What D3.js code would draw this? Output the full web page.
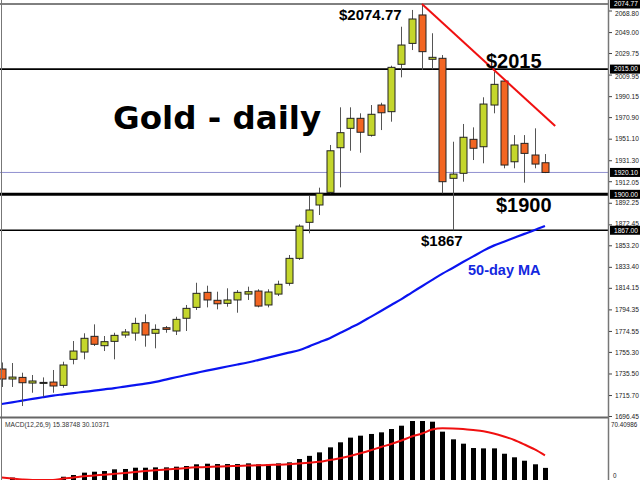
<!DOCTYPE html>
<html><head><meta charset="utf-8">
<script src="https://cdn.jsdelivr.net/npm/d3@7"></script>
<style>body{margin:0;background:#fff}svg{display:block}</style>
</head><body>
<svg id="c" width="640" height="480"></svg>
<script>
// ---- data ----
const opens  = [1739.6,1730.4,1731.9,1726.7,1727.3,1727.6,1724.6,1748.5,1755.2,1769.6,1761.0,1765.0,1770.8,1772.6,1782.1,1772.4,1777.5,1774.5,1786.2,1796.2,1810.0,1802.7,1799.9,1803.0,1808.4,1811.2,1798.4,1808.4,1818.3,1841.2,1874.3,1890.2,1901.8,1942.8,1960.6,1969.8,1954.2,1982.0,1975.9,2019.4,2038.6,2064.7,2024.0,2024.9,1914.7,1919.3,1950.5,1943.7,1982.0,2004.0,1929.9,1946.8,1936.1,1929.0];
const highs  = [1745.6,1745.1,1736.2,1734.1,1731.9,1738.7,1746.3,1765.3,1772.4,1780.6,1769.9,1772.9,1776.3,1786.7,1789.8,1780.6,1779.1,1787.6,1798.4,1818.8,1816.1,1810.6,1813.7,1812.1,1815.2,1812.8,1812.8,1820.7,1844.3,1872.4,1898.5,1906.1,1945.3,1979.9,1979.9,1974.4,1982.0,1984.1,2018.1,2053.9,2069.3,2074.77,2047.9,2027.9,1948.3,1964.6,1961.5,1989.1,2012.6,2005.0,1954.4,1954.4,1960.6,1937.0];
const lows   = [1723.1,1723.1,1705.6,1717.8,1714.1,1717.8,1722.4,1743.9,1748.5,1760.7,1756.1,1748.5,1768.3,1765.6,1760.1,1758.6,1772.9,1770.8,1774.5,1793.8,1796.2,1794.4,1796.8,1791.3,1803.0,1796.2,1796.2,1806.6,1816.1,1839.7,1864.2,1881.0,1900.9,1906.4,1940.0,1938.2,1953.0,1959.0,1966.7,2007.4,2032.5,2014.2,2014.8,1900.9,1867.0,1911.6,1931.5,1928.5,1974.4,1923.9,1923.9,1910.7,1923.9,1919.5];
const closes = [1730.4,1732.2,1727.0,1728.6,1727.3,1724.0,1743.3,1756.1,1767.8,1762.3,1764.7,1770.5,1773.6,1781.5,1770.8,1776.0,1776.0,1785.2,1795.3,1809.1,1803.0,1799.5,1803.0,1810.0,1810.6,1797.4,1810.3,1817.4,1841.2,1870.8,1885.6,1900.9,1940.0,1956.6,1969.8,1957.0,1973.5,1974.9,2016.6,2037.1,2061.0,2031.0,2025.8,1911.6,1918.6,1952.4,1942.3,1982.9,2001.0,1926.9,1945.3,1937.6,1927.8,1920.1];
const ma50   = [1707.5,1709.0,1710.6,1712.1,1713.7,1715.2,1716.3,1717.4,1718.6,1719.7,1720.9,1722.1,1723.5,1724.8,1726.1,1727.8,1729.9,1732.0,1734.1,1736.1,1738.1,1740.0,1741.9,1743.7,1745.6,1747.8,1750.1,1752.3,1754.6,1756.8,1760.4,1764.2,1767.9,1772.6,1777.3,1782.1,1787.5,1792.9,1798.4,1803.8,1809.8,1815.6,1821.5,1827.2,1832.4,1837.8,1843.0,1848.3,1852.9,1856.5,1860.1,1863.7,1867.2,1870.9];
const macdHist   = [1.0,4.0,1.0,0.5,0.3,0.8,5.0,7.0,9.8,10.9,11.7,13.7,14.1,15.6,15.6,16.0,16.0,16.8,17.6,19.6,20.3,19.9,19.9,19.9,20.7,19.6,19.6,20.7,21.9,25.8,29.5,33.6,39.5,45.4,50.9,53.2,55.2,57.1,61.0,64.9,70.4,70.4,69.6,57.9,48.9,43.8,38.7,38.3,38.3,32.0,27.8,23.8,19.6,15.39];
const macdSignal = [4.1,2.9,1.8,1.2,1.2,1.2,2.9,4.1,5.5,6.5,7.4,8.4,9.4,10.6,11.7,12.7,13.5,14.3,15.3,16.0,16.4,16.9,17.4,17.7,18.1,18.4,18.8,19.1,19.6,20.5,21.4,22.5,24.6,26.6,29.3,32.5,36.0,39.9,43.4,47.5,52.2,55.7,60.4,61.8,61.6,61.0,59.8,58.3,55.7,52.2,48.1,42.8,37.0,30.1];
const axisTicks = [2068.80,2049.00,2029.75,2009.95,1990.15,1970.90,1951.10,1931.30,1912.05,1892.25,1872.45,1853.20,1833.40,1814.15,1794.35,1774.55,1755.30,1735.50,1715.70,1696.45];
const levels = [2074.77,2015.00,1920.10,1900.00,1867.00];
const levelStyles = [{w:1,c:"#000"},{w:1.6,c:"#000"},{w:1,c:"#9090d0"},{w:3,c:"#000"},{w:1.6,c:"#000"}];
const trendIdx = [41, 54];
const trendPrice = [2074.77, 1962.7];
const macdTop = 70.40986;
const macdLabel = "MACD(12,26,9) 15.38748 30.10371";

// ---- scales ----
const svg = d3.select("#c");
const plotR = 608;
const x = d3.scaleLinear().domain([-0.17, 59.15]).range([0, plotR]);
const y = d3.scaleLinear().domain([1696.45, 2074.77]).range([416, 4]);
const ym = d3.scaleLinear().domain([0, macdTop]).range([481, 421]);
const idx = d3.range(opens.length);

svg.append("rect").attr("width",640).attr("height",480).attr("fill","#fff");
const defs = svg.append("defs");
defs.append("clipPath").attr("id","cm").append("rect").attr("x",0).attr("y",0).attr("width",plotR).attr("height",417);
defs.append("clipPath").attr("id","cd").append("rect").attr("x",0).attr("y",418).attr("width",plotR).attr("height",62);

const main = svg.append("g").attr("clip-path","url(#cm)");
levels.forEach((v,i)=>{
  main.append("line").attr("x1",0).attr("x2",plotR).attr("y1",y(v)).attr("y2",y(v))
    .attr("stroke",levelStyles[i].c).attr("stroke-width",levelStyles[i].w);
});
main.append("path").datum(idx).attr("fill","none").attr("stroke","#0a14f0").attr("stroke-width",2.2)
  .attr("d", d3.line().x(i=>x(i)).y(i=>y(ma50[i])).curve(d3.curveMonotoneX));
const cg = main.selectAll("g.cd").data(idx).join("g");
cg.append("line").attr("x1",i=>Math.round(x(i))+0.5).attr("x2",i=>Math.round(x(i))+0.5)
  .attr("y1",i=>y(highs[i])).attr("y2",i=>y(lows[i])).attr("stroke","#555").attr("stroke-width",1);
cg.append("rect").attr("x",i=>Math.round(x(i))-3).attr("width",7)
  .attr("y",i=>y(Math.max(opens[i],closes[i])))
  .attr("height",i=>Math.max(1, Math.abs(y(opens[i])-y(closes[i]))))
  .attr("fill",i=>closes[i]>=opens[i]?"#c4d62c":"#f26522")
  .attr("stroke","#222").attr("stroke-width",1);
main.append("line").attr("x1",x(trendIdx[0])).attr("y1",y(trendPrice[0]))
  .attr("x2",x(trendIdx[1])).attr("y2",y(trendPrice[1])).attr("stroke","#f01010").attr("stroke-width",2);

// texts
svg.append("text").attr("x",113).attr("y",129).text("Gold - daily")
  .attr("font-family","DejaVu Sans").attr("font-weight","bold").attr("font-size",32.5).attr("fill","#000");
const lab = (t,xx,yy,fs)=>svg.append("text").attr("x",xx).attr("y",yy).text(t)
  .attr("font-family","Liberation Sans, Arial").attr("font-weight","bold").attr("font-size",fs).attr("fill","#000");
lab("$2074.77",339,20,15);
lab("$2015",486,68,20);
lab("$1900",496,212,20);
lab("$1867",421,246,15);
svg.append("text").attr("x",468).attr("y",275).text("50-day MA")
  .attr("font-family","Liberation Sans, Arial").attr("font-weight","bold").attr("font-size",14.5).attr("fill","#1428e0");

// MACD panel
const md = svg.append("g").attr("clip-path","url(#cd)");
md.selectAll("rect.h").data(idx).join("rect")
  .attr("x",i=>Math.round(x(i))-2).attr("width",5)
  .attr("y",i=>Math.min(ym(macdHist[i]),ym(0)))
  .attr("height",i=>Math.abs(ym(macdHist[i])-ym(0))).attr("fill","#000");
md.append("path").datum(idx).attr("fill","none").attr("stroke","#f01010").attr("stroke-width",2)
  .attr("d", d3.line().x(i=>x(i)).y(i=>ym(macdSignal[i])).curve(d3.curveMonotoneX));
svg.append("text").attr("x",5).attr("y",426.5).text(macdLabel)
  .attr("font-family","Liberation Sans, Arial").attr("font-size",6.6).attr("fill","#333");

// frame
svg.append("line").attr("x1",1.5).attr("x2",1.5).attr("y1",0).attr("y2",480).attr("stroke","#777").attr("stroke-width",1);
svg.append("line").attr("x1",0).attr("x2",plotR).attr("y1",417.5).attr("y2",417.5).attr("stroke","#666").attr("stroke-width",2);
svg.append("line").attr("x1",plotR+0.5).attr("x2",plotR+0.5).attr("y1",0).attr("y2",480).attr("stroke","#777").attr("stroke-width",1.5);

// right axis
const nudge = {"2068.80":2.5,"2009.95":1.5,"1912.05":1,"1872.45":-1};
const ax = svg.append("g").attr("transform",`translate(${plotR+1},0)`)
  .call(d3.axisRight(y).tickValues(axisTicks).tickSize(3).tickPadding(3).tickFormat(d3.format(".2f")));
ax.select(".domain").remove();
ax.selectAll("text").attr("font-family","Liberation Sans, Arial").attr("font-size",6.6).attr("fill","#222")
  .attr("transform",d=>`translate(0,${nudge[d3.format(".2f")(d)]||0})`);
ax.selectAll("line").attr("stroke","#444");
const axm = svg.append("g").attr("transform",`translate(${plotR+1},0)`)
  .call(d3.axisRight(ym).tickValues([macdTop]).tickSize(0).tickPadding(2).tickFormat(d3.format(".5f")));
axm.select(".domain").remove();
axm.selectAll("text").attr("font-family","Liberation Sans, Arial").attr("font-size",6.3).attr("fill","#222").attr("dy","0.9em");
svg.append("text").attr("x",613).attr("y",478).text("0").attr("font-family","Liberation Sans, Arial").attr("font-size",6.3).attr("fill","#222");

// highlighted level labels
levels.forEach(v=>{
  const g = svg.append("g").attr("transform",`translate(${plotR+2},${y(v)})`);
  g.append("rect").attr("x",0).attr("y",-4.5).attr("width",30).attr("height",9).attr("fill","#000");
  g.append("text").attr("x",4).attr("y",2.4).text(d3.format(".2f")(v))
    .attr("font-family","Liberation Sans, Arial").attr("font-size",6.6).attr("fill","#fff");
});
</script>
</body></html>
